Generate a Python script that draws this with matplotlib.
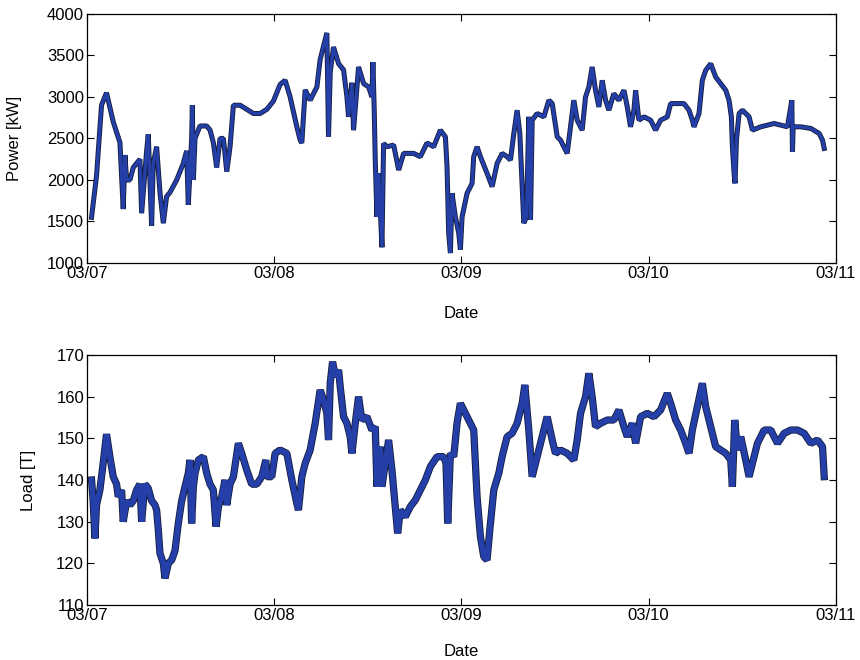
import numpy as np
import matplotlib
matplotlib.use("Agg")
import matplotlib.pyplot as plt
import matplotlib.dates as mdates
import matplotlib.patheffects as pe

plt.rcParams['font.family'] = ['Liberation Sans', 'DejaVu Sans']

# hours after 03/07 00:00, power [kW]
power_h = [0.60, 1.24, 1.88, 2.52, 3.38, 4.24, 4.66, 4.88, 5.09, 5.52, 5.95, 6.80, 7.02, 7.66,
           7.87, 8.30, 8.51, 8.94, 9.37, 9.80, 10.22, 10.65, 11.51, 12.36, 12.79, 13.00, 13.43,
           13.52, 13.65, 13.86, 14.50, 15.36, 15.79, 16.21, 16.64, 17.07, 17.50, 17.93, 18.35,
           18.78, 19.64, 20.49, 21.35, 22.20, 23.06, 23.91, 24.77, 25.41, 26.05, 26.91, 27.34,
           27.55, 27.98, 28.62, 29.48, 29.90, 30.76, 30.97, 31.19, 31.61, 32.26, 32.90, 33.33,
           33.54, 33.97, 34.18, 34.82, 35.47, 36.11, 36.53, 36.66, 36.83, 36.96, 37.18, 37.39,
           37.82, 38.03, 38.46, 39.32, 39.96, 40.60, 41.88, 42.74, 43.59, 44.45, 45.30, 45.95,
           46.16, 46.37, 46.59, 46.80, 47.23, 47.66, 47.87, 48.09, 48.73, 49.37, 49.58, 50.01,
           50.44, 51.29, 51.94, 52.58, 53.22, 53.86, 54.29, 54.72, 55.14, 55.49, 55.79, 56.00,
           56.34, 56.64, 56.86, 57.07, 57.71, 58.57, 59.21, 59.64, 60.28, 60.70, 61.56, 61.98,
           62.41, 62.84, 63.48, 63.91, 64.34, 64.76, 65.19, 65.62, 66.05, 66.48, 66.90, 67.54,
           68.19, 68.83, 69.26, 69.68, 70.11, 70.33, 70.75, 71.40, 72.25, 72.89, 73.53, 74.39,
           74.82, 75.67, 76.53, 77.17, 77.60, 77.81, 78.45, 78.88, 79.31, 79.95, 80.59, 81.23,
           81.88, 82.30, 82.60, 82.73, 82.95, 83.07, 83.25, 83.59, 84.02, 84.44, 84.87, 85.30,
           86.37, 88.08, 89.79, 90.35, 90.43, 90.52, 91.50, 92.79, 93.85, 94.28, 94.50]
power_kw = [1550, 2050, 2900, 3050, 2700, 2450, 1650, 2300, 2000, 2000, 2150, 2250, 1600, 2350,
            2550, 1450, 2200, 2400, 1850, 1480, 1800, 1850, 2000, 2200, 2350, 1700, 2500,
            2900, 2000, 2500, 2650, 2650, 2600, 2450, 2150, 2500, 2500, 2100, 2400,
            2900, 2900, 2850, 2800, 2800, 2850, 2950, 3150, 3200, 3000, 2640, 2480,
            2445, 3085, 2960, 3120, 3450, 3770, 2520, 3300, 3600, 3400, 3325, 3000,
            2760, 3170, 2600, 3360, 3160, 3120, 3000, 3420, 2840, 2240, 1555, 2080,
            1190, 2440, 2400, 2420, 2120, 2320, 2320, 2280, 2445, 2400, 2600, 2520,
            2160, 1360, 1120, 1840, 1555, 1360, 1160, 1555, 1840, 1960, 2280, 2400,
            2280, 2080, 1920, 2200, 2320, 2280, 2240, 2560, 2840, 2560, 1920, 1480,
            1555, 2760, 1520, 2720, 2800, 2760, 2960, 2920, 2520, 2480, 2320, 2640,
            2960, 2720, 2600, 3000, 3120, 3360, 3080, 2880, 3200, 2960, 2840, 3040,
            2960, 3080, 2880, 2640, 2840, 3080, 2720, 2760, 2720, 2600, 2720, 2760,
            2920, 2920, 2920, 2840, 2720, 2640, 2800, 3200, 3320, 3400, 3240, 3160,
            3080, 2960, 2760, 2400, 2080, 1960, 2480, 2800, 2840, 2800, 2760, 2600,
            2640, 2680, 2640, 2960, 2340, 2640, 2640, 2620, 2560, 2480, 2380]

# hours after 03/07 00:00, load [T]
load_h = [0.60, 0.81, 1.03, 1.24, 1.67, 2.09, 2.52, 2.95, 3.38, 3.81, 4.02, 4.45, 4.66, 5.09,
          5.52, 5.95, 6.37, 6.80, 7.02, 7.44, 7.87, 8.30, 8.73, 8.94, 9.16, 9.37, 9.80, 10.01,
          10.44, 10.87, 11.29, 11.72, 12.15, 12.58, 13.00, 13.22, 13.43, 13.65, 13.86, 14.29,
          14.93, 15.36, 15.79, 16.21, 16.56, 16.86, 17.28, 17.71, 17.93, 18.35, 18.78, 19.42,
          19.85, 20.49, 21.13, 21.78, 22.42, 22.93, 23.06, 23.70, 24.13, 24.77, 25.63, 26.27,
          26.91, 27.12, 27.55, 27.98, 28.62, 29.26, 29.90, 30.33, 30.76, 30.97, 31.19, 31.49,
          31.83, 32.26, 32.47, 32.90, 33.33, 33.75, 33.97, 34.40, 34.82, 35.25, 35.89, 36.53,
          36.96, 37.18, 37.60, 37.82, 38.25, 38.67, 39.10, 39.53, 39.83, 40.17, 40.81, 41.45,
          42.10, 42.74, 43.38, 44.02, 44.88, 45.73, 46.03, 46.25, 46.59, 47.02, 47.44, 47.87,
          48.51, 49.15, 49.58, 50.01, 50.44, 50.87, 51.29, 51.64, 52.15, 52.79, 53.22, 53.86,
          54.50, 55.14, 55.79, 56.13, 56.64, 57.07, 57.50, 58.14, 58.99, 59.64, 60.06, 60.70,
          61.56, 62.41, 62.84, 63.27, 63.91, 64.34, 64.76, 65.19, 65.83, 66.69, 67.54, 68.19,
          68.83, 69.26, 69.90, 70.33, 70.97, 71.82, 72.68, 73.53, 74.39, 74.82, 75.46, 76.10,
          76.74, 77.17, 77.60, 78.24, 78.88, 79.31, 79.95, 80.59, 81.23, 81.88, 82.52, 82.73,
          83.03, 83.37, 83.80, 84.44, 84.87, 85.30, 85.94, 86.80, 87.65, 88.51, 89.36, 90.22,
          91.07, 91.93, 92.79, 93.64, 94.28, 94.50]
load_t = [140, 135, 126, 134, 137.6, 144, 151, 145.6, 140.8, 139, 136, 137.6, 130, 135,
          134, 135, 137.6, 139, 130, 139, 138, 135, 134, 132.8, 128, 122.4, 120, 116.4,
          120, 120.8, 123, 129.6, 135, 138.4, 141.6, 144.8, 129.6, 138.4, 141.6, 144.8,
          145.6, 141.6, 139, 137.6, 128.8, 133.6, 136, 140, 134, 139, 140.8, 148.8,
          146.4, 142.4, 139, 139, 140.8, 144.8, 140.8, 140.8, 146.4, 147.2, 146.4, 140,
          134.4, 132.8, 140.8, 144, 147.2, 153.6, 161.6, 159.2, 156, 149.6, 163.2, 168.4,
          164.8, 166.4, 162.4, 155.2, 153.6, 150.4, 146.4, 153.6, 160, 154.4, 155.2, 152,
          152.8, 138.4, 148, 138.4, 144, 149.6, 142.4, 133.6, 127.2, 132.8, 131.2, 133.6,
          135.2, 137.6, 140, 143.2, 145.6, 145.6, 144, 129.6, 146.4, 145.6, 153.6, 158.4,
          156, 153.6, 152, 136, 126.4, 121.6, 120.8, 128, 137.6, 141.6, 145.6, 150.4,
          151.2, 153.6, 158.4, 162.8, 152, 140.8, 144, 148.8, 155.2, 149.6, 146.4, 147.2,
          146.4, 144.8, 149.6, 156, 160, 165.6, 160, 152.8, 153.6, 154.4, 154.4, 156.8,
          152.8, 150.4, 153.6, 148.8, 155.2, 156, 155.2, 156.8, 160.8, 158.4, 154.4, 152,
          148.8, 146.4, 152, 157.6, 163.2, 157.6, 152.8, 148, 147.2, 146.4, 144.8, 138.4,
          154.4, 147.2, 150.4, 144.8, 140.8, 144, 148.8, 152, 152, 148.8, 151.2, 152,
          152, 151.2, 148.8, 149.6, 148, 140.8]

start = np.datetime64('2013-03-07T00:00')


def to_time(hours):
    return start + (np.array(hours) * 3600).astype('timedelta64[s]')


line_color = '#2440a8'

fig = plt.figure(figsize=(8.6, 6.6), dpi=100)
ax1 = fig.add_axes([0.101, 0.6015, 0.871, 0.3775])
ax2 = fig.add_axes([0.101, 0.0833, 0.871, 0.3788])

ax1.plot(to_time(power_h), power_kw, color=line_color, lw=2.4, solid_joinstyle='bevel',
         path_effects=[pe.Stroke(linewidth=3.6, foreground='#141c3c'), pe.Normal()])
ax2.plot(to_time(load_h), load_t, color=line_color, lw=4.0, solid_joinstyle='bevel',
         path_effects=[pe.Stroke(linewidth=5.2, foreground='#141c3c'), pe.Normal()])

ax1.set_ylim(1000, 4000)
ax1.set_yticks(np.arange(1000, 4001, 500))
ax1.set_ylabel('Power [kW]', fontsize=12)
ax1.yaxis.set_label_coords(-0.087, 0.5)
ax2.set_ylim(110, 170)
ax2.set_yticks(np.arange(110, 171, 10))
ax2.set_ylabel('Load [T]', fontsize=12)
ax2.yaxis.set_label_coords(-0.068, 0.5)

for ax in (ax1, ax2):
    ax.set_xlim(start, start + np.timedelta64(4, 'D'))
    ax.xaxis.set_major_locator(mdates.DayLocator())
    ax.xaxis.set_major_formatter(mdates.DateFormatter('%m/%d'))
    ax.tick_params(direction='in', top=True, right=True, length=5, labelsize=12, pad=2)
    for s in ax.spines.values():
        s.set_linewidth(0.9)

ax1.set_xlabel('Date', fontsize=12, labelpad=18)
ax2.set_xlabel('Date', fontsize=12, labelpad=15)

fig.savefig('out.png', dpi=100)
